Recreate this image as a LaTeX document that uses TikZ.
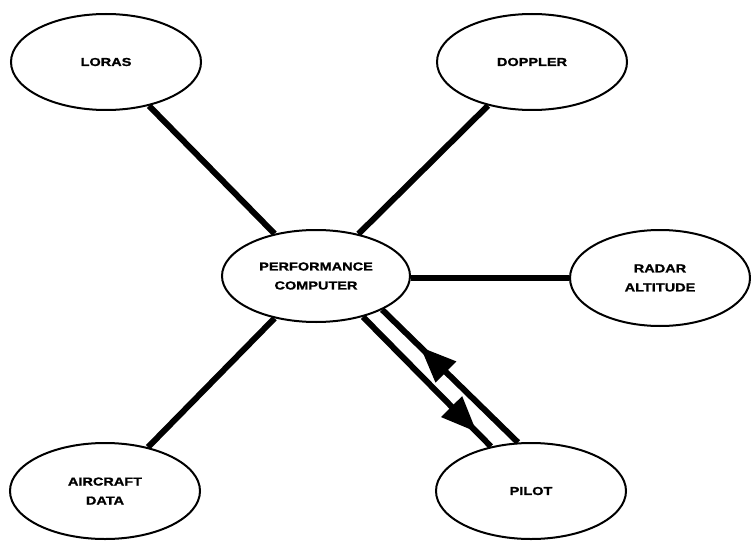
\documentclass[tikz,border=0pt]{standalone}
\usepackage{fontspec}
\setmainfont{Liberation Sans}[FakeStretch=1.25, BoldFeatures={FakeBold=1.2}]
\usetikzlibrary{shapes.geometric,arrows.meta,decorations.markings}
\tikzset{
  unit/.style={ellipse, draw, line width=2pt, inner sep=0pt,
    minimum width=190pt, minimum height=96pt, align=center,
    font=\fontsize{11.6}{19}\selectfont\bfseries},
  link/.style={line width=6pt},
  downarrow/.style={link, postaction={decorate}, decoration={markings,
    mark=at position 0.89 with {\arrow{Triangle[length=36pt,width=28pt]}}}},
  uparrow/.style={link, postaction={decorate}, decoration={markings,
    mark=at position 0.28 with {\arrowreversed{Triangle[length=36pt,width=28pt]}}}},
}
\begin{document}
\begin{tikzpicture}[x=1pt,y=-1pt]
\useasboundingbox (0,0) rectangle (751,540);
\node[unit] (loras)   at (106,62)  {LORAS};
\node[unit] (doppler) at (532,62)  {DOPPLER};
\node[unit, minimum width=188pt, minimum height=92pt] (pc) at (316,276) {PERFORMANCE\\COMPUTER};
\node[unit, minimum width=180pt] (radar) at (660,278) {RADAR\\ALTITUDE};
\node[unit] (aircraft) at (105,491) {AIRCRAFT\\DATA};
\node[unit] (pilot)    at (531,491) {PILOT};

\draw[link] (loras) -- (pc);
\draw[link] (doppler) -- (pc);
\draw[link] (aircraft) -- (pc);
\draw[link] (pc.east |- radar.west) -- (radar.west);

\draw[downarrow] (pc.-41) -- (pilot.132);
\draw[uparrow] (pc.-27) -- (pilot.105);
\end{tikzpicture}
\end{document}
